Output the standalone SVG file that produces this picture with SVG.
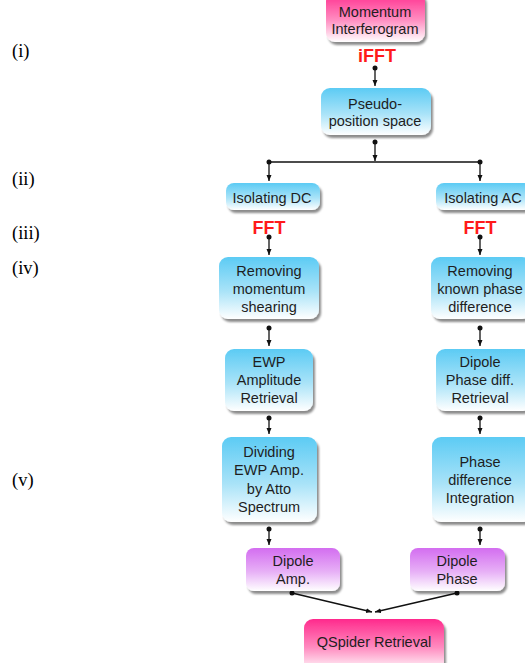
<svg xmlns="http://www.w3.org/2000/svg" width="525" height="663" viewBox="0 0 525 663">
<defs>
<linearGradient id="gBlue" x1="0" y1="0" x2="0" y2="1">
<stop offset="0" stop-color="#5ccbf4"/><stop offset="0.55" stop-color="#a9e3f8"/><stop offset="1" stop-color="#ffffff"/>
</linearGradient>
<linearGradient id="gPink" x1="0" y1="0" x2="0" y2="1">
<stop offset="0" stop-color="#ff2a8c"/><stop offset="0.55" stop-color="#ff8cc0"/><stop offset="1" stop-color="#ffffff"/>
</linearGradient>
<linearGradient id="gPurple" x1="0" y1="0" x2="0" y2="1">
<stop offset="0" stop-color="#d36df0"/><stop offset="0.55" stop-color="#e7b0f6"/><stop offset="1" stop-color="#ffffff"/>
</linearGradient>
<filter id="sh" x="-20%" y="-20%" width="140%" height="150%">
<feDropShadow dx="2" dy="3" stdDeviation="1.3" flood-color="#000" flood-opacity="0.45"/>
</filter>
<marker id="dot" markerWidth="6" markerHeight="6" refX="3" refY="3" markerUnits="userSpaceOnUse">
<circle cx="3" cy="3" r="2.5" fill="#111"/>
</marker>
<marker id="arr" markerWidth="8" markerHeight="8" refX="6" refY="3.5" orient="auto" markerUnits="userSpaceOnUse">
<path d="M0,1 L6,3.5 L0,6 Z" fill="#111"/>
</marker>
<style>
.box{filter:url(#sh);}
.blue{fill:url(#gBlue);}
.pink{fill:url(#gPink);}
.purple{fill:url(#gPurple);}
.t{font-family:"Liberation Sans",Arial,sans-serif;font-size:14.5px;fill:#1e1e1e;text-anchor:middle;}
.red{font-family:"Liberation Sans",Arial,sans-serif;font-size:18px;font-weight:bold;fill:#ff1a1a;text-anchor:middle;}
.lab{font-family:"Liberation Serif","Times New Roman",serif;font-size:18.5px;fill:#000;}
.c{fill:none;stroke:#111;stroke-width:1.3;}
.da{marker-start:url(#dot);marker-end:url(#arr);}
</style>
</defs>

<g id="labels">
<text class="lab" x="12" y="57">(i)</text>
<text class="lab" x="12" y="185">(ii)</text>
<text class="lab" x="12" y="239">(iii)</text>
<text class="lab" x="12" y="274">(iv)</text>
<text class="lab" x="12" y="486">(v)</text>
</g>

<g id="connectors">
<path class="c da" d="M375,68 L375,86"/>
<path class="c da" d="M375,142 L375,161"/>
<path class="c" d="M269,162 L480,162" marker-start="url(#dot)" marker-end="url(#dot)"/>
<path class="c" d="M269,162 L269,181" marker-end="url(#arr)"/>
<path class="c" d="M480,162 L480,181" marker-end="url(#arr)"/>
<path class="c da" d="M269,237 L269,255"/>
<path class="c da" d="M480,237 L480,255"/>
<path class="c da" d="M269,328 L269,346"/>
<path class="c da" d="M480,328 L480,346"/>
<path class="c da" d="M269,418 L269,434"/>
<path class="c da" d="M480,418 L480,434"/>
<path class="c da" d="M269,529 L269,545"/>
<path class="c da" d="M480,529 L480,545"/>
<path class="c da" d="M292,593 L372,612"/>
<path class="c da" d="M457,593 L375,612"/>
</g>

<g id="fft-labels">
<text class="red" x="377" y="62">iFFT</text>
<text class="red" x="269" y="234">FFT</text>
<text class="red" x="480" y="234">FFT</text>
</g>

<g id="momentum">
<rect class="box pink" x="326" y="-8" width="99" height="50" rx="9"/>
<text class="t" x="375" y="17">Momentum</text>
<text class="t" x="375" y="34">Interferogram</text>
</g>

<g id="pseudo">
<rect class="box blue" x="321" y="88" width="110" height="47" rx="9"/>
<text class="t" x="375" y="109">Pseudo-</text>
<text class="t" x="375" y="126">position space</text>
</g>

<g id="isoDC">
<rect class="box blue" x="226" y="183" width="94" height="27" rx="8"/>
<text class="t" x="272" y="203">Isolating DC</text>
</g>

<g id="isoAC">
<rect class="box blue" x="436" y="183" width="96" height="27" rx="8"/>
<text class="t" x="483" y="203">Isolating AC</text>
</g>

<g id="removeShear">
<rect class="box blue" x="219" y="257" width="100" height="62" rx="9"/>
<text class="t" x="269" y="276">Removing</text>
<text class="t" x="269" y="294">momentum</text>
<text class="t" x="269" y="312">shearing</text>
</g>

<g id="removePhase">
<rect class="box blue" x="431" y="257" width="100" height="62" rx="9"/>
<text class="t" x="480" y="276">Removing</text>
<text class="t" x="480" y="294">known phase</text>
<text class="t" x="480" y="312">difference</text>
</g>

<g id="ewp">
<rect class="box blue" x="225" y="349" width="88" height="62" rx="9"/>
<text class="t" x="269" y="367">EWP</text>
<text class="t" x="269" y="385">Amplitude</text>
<text class="t" x="269" y="403">Retrieval</text>
</g>

<g id="dipolePhaseDiff">
<rect class="box blue" x="436" y="349" width="96" height="62" rx="9"/>
<text class="t" x="480" y="367">Dipole</text>
<text class="t" x="480" y="385">Phase diff.</text>
<text class="t" x="480" y="403">Retrieval</text>
</g>

<g id="dividing">
<rect class="box blue" x="222" y="437" width="95" height="85" rx="9"/>
<text class="t" x="269" y="457">Dividing</text>
<text class="t" x="269" y="475">EWP Amp.</text>
<text class="t" x="269" y="494">by Atto</text>
<text class="t" x="269" y="512">Spectrum</text>
</g>

<g id="integration">
<rect class="box blue" x="432" y="437" width="100" height="85" rx="9"/>
<text class="t" x="480" y="467">Phase</text>
<text class="t" x="480" y="485">difference</text>
<text class="t" x="480" y="503">Integration</text>
</g>

<g id="dipoleAmp">
<rect class="box purple" x="246" y="548" width="94" height="43" rx="8"/>
<text class="t" x="293" y="566">Dipole</text>
<text class="t" x="293" y="584">Amp.</text>
</g>

<g id="dipolePhase">
<rect class="box purple" x="410" y="548" width="95" height="43" rx="8"/>
<text class="t" x="457" y="566">Dipole</text>
<text class="t" x="457" y="584">Phase</text>
</g>

<g id="qspider">
<rect class="box pink" x="304" y="619" width="140" height="52" rx="9"/>
<text class="t" x="374" y="647">QSpider Retrieval</text>
</g>
</svg>
